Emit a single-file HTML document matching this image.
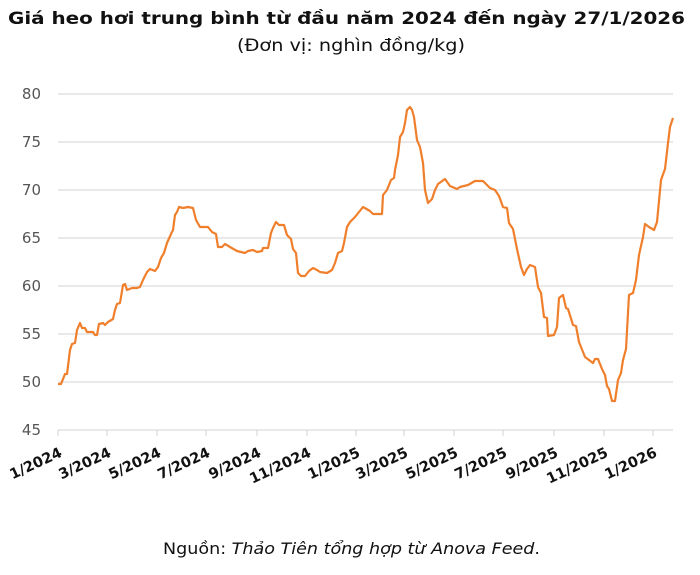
<!DOCTYPE html>
<html><head><meta charset="utf-8"><style>
body{margin:0;background:#fff;width:700px;height:571px;overflow:hidden;font-family:"DejaVu Sans",sans-serif}
</style></head><body>
<svg width="700" height="571" xmlns="http://www.w3.org/2000/svg" font-family="DejaVu Sans, sans-serif">
<text x="8" y="24" font-size="17" font-weight="bold" fill="#111" textLength="677" lengthAdjust="spacingAndGlyphs">Giá heo hơi trung bình từ đầu năm 2024 đến ngày 27/1/2026</text>
<text x="237" y="51" font-size="17" fill="#111" textLength="228" lengthAdjust="spacingAndGlyphs">(Đơn vị: nghìn đồng/kg)</text>
<g stroke="#dcdcdc" stroke-width="1.3">
<line x1="58" x2="673" y1="94" y2="94"/><line x1="58" x2="673" y1="142" y2="142"/>
<line x1="58" x2="673" y1="190" y2="190"/><line x1="58" x2="673" y1="238" y2="238"/>
<line x1="58" x2="673" y1="286" y2="286"/><line x1="58" x2="673" y1="334" y2="334"/>
<line x1="58" x2="673" y1="382" y2="382"/><line x1="58" x2="673" y1="430" y2="430"/>
</g>
<g stroke="#d0d0d0" stroke-width="1">
<line x1="58" x2="58" y1="430" y2="436"/><line x1="107" x2="107" y1="430" y2="436"/><line x1="157" x2="157" y1="430" y2="436"/><line x1="206" x2="206" y1="430" y2="436"/><line x1="257" x2="257" y1="430" y2="436"/><line x1="307" x2="307" y1="430" y2="436"/><line x1="356" x2="356" y1="430" y2="436"/><line x1="404" x2="404" y1="430" y2="436"/><line x1="454" x2="454" y1="430" y2="436"/><line x1="503" x2="503" y1="430" y2="436"/><line x1="554" x2="554" y1="430" y2="436"/><line x1="604" x2="604" y1="430" y2="436"/><line x1="653" x2="653" y1="430" y2="436"/>
</g>
<g font-size="15" fill="#555" text-anchor="end">
<text x="41" y="99">80</text><text x="41" y="147">75</text><text x="41" y="195">70</text><text x="41" y="243">65</text><text x="41" y="291">60</text><text x="41" y="339">55</text><text x="41" y="387">50</text><text x="41" y="435">45</text>
</g>
<g font-size="14.5" font-weight="bold" fill="#111" text-anchor="end">
<text transform="translate(63,456) rotate(-25)">1/2024</text>
<text transform="translate(112,456) rotate(-25)">3/2024</text>
<text transform="translate(162,456) rotate(-25)">5/2024</text>
<text transform="translate(211,456) rotate(-25)">7/2024</text>
<text transform="translate(262,456) rotate(-25)">9/2024</text>
<text transform="translate(312,456) rotate(-25)">11/2024</text>
<text transform="translate(361,456) rotate(-25)">1/2025</text>
<text transform="translate(409,456) rotate(-25)">3/2025</text>
<text transform="translate(459,456) rotate(-25)">5/2025</text>
<text transform="translate(508,456) rotate(-25)">7/2025</text>
<text transform="translate(559,456) rotate(-25)">9/2025</text>
<text transform="translate(609,456) rotate(-25)">11/2025</text>
<text transform="translate(658,456) rotate(-25)">1/2026</text>
</g>
<polyline fill="none" stroke="#f07f2c" stroke-width="2.2" stroke-linejoin="round" points="58,384 61,384 65,374 67,374 70,350 72,344 75,343 77,330 80,323 82,328 85,328 87,332 93,332 95,335 97,335 99,324 103,323 105,325 108,322 113,319 115,310 117,304 120,303 123,285 125,284 127,290 132,288 137,288 140,287 143,280 147,272 150,269 155,271 158,267 161,258 164,253 167,243 171,234 173,230 175,215 177,212 179,207 183,208 188,207 193,208 196,220 200,227 205,227 208,227 212,232 216,234 218,247 222,247 225,244 230,247 237,251 245,253 248,251 253,250 257,252 262,251 263,248 268,248 271,233 273,228 276,222 279,225 284,225 287,235 291,239 293,249 296,253 298,273 301,276 305,276 309,271 313,268 317,270 320,272 327,273 332,270 335,263 338,253 342,251 344,243 347,227 350,222 355,217 363,207 370,211 373,214 382,214 383,195 387,190 389,185 391,180 394,178 395,170 398,155 400,137 403,132 405,123 407,110 410,107 412,110 414,117 417,140 420,147 423,163 425,190 428,203 432,199 435,190 438,184 445,179 450,186 457,189 460,187 468,185 475,181 483,181 485,183 490,188 495,190 499,196 503,207 507,208 509,223 513,229 517,249 521,267 524,275 527,269 530,265 535,267 538,287 541,293 544,317 547,318 548,336 554,335 557,327 559,298 563,295 566,308 568,309 573,325 576,326 579,342 585,357 589,360 593,363 595,359 598,359 602,369 605,375 607,386 609,389 612,401 615,401 618,380 621,373 623,360 626,349 629,295 633,293 636,280 639,255 643,237 645,224 649,227 654,230 657,222 661,180 665,169 668,143 670,127 673,118"/>
<text x="163" y="554" font-size="16" fill="#111" textLength="377" lengthAdjust="spacingAndGlyphs">Nguồn: <tspan font-style="italic">Thảo Tiên tổng hợp từ Anova Feed</tspan>.</text>
</svg>
</body></html>
